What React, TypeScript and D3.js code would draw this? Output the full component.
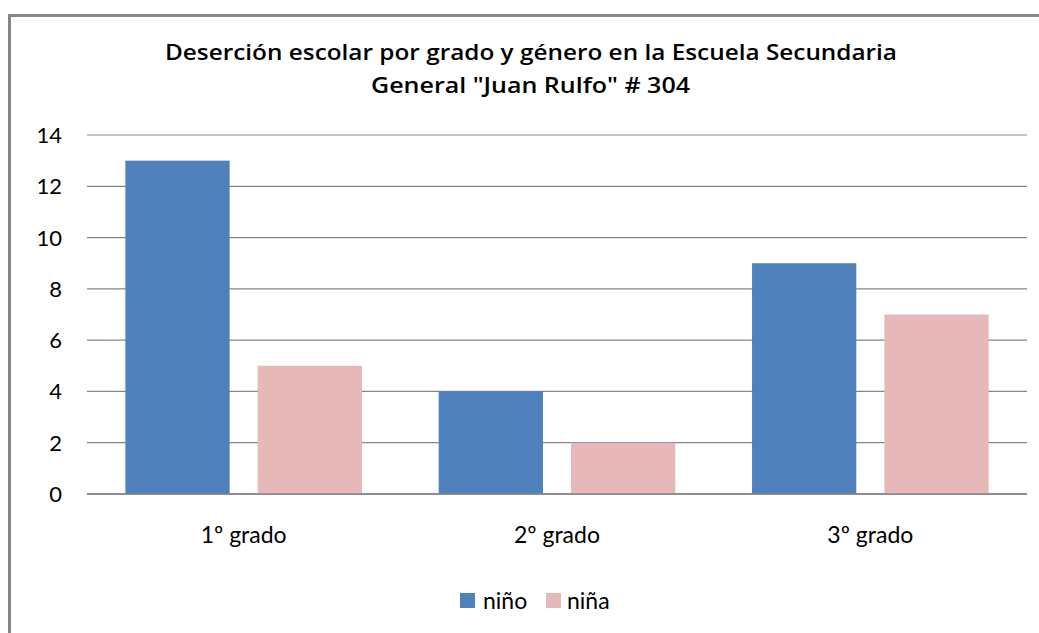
import React from "react";
import * as d3 from "d3";

const categories = ["1º grado", "2º grado", "3º grado"];
const seriesNames = ["niño", "niña"];
const ninoValues = [13, 4, 9];
const ninaValues = [5, 2, 7];
const yTicks = [0, 2, 4, 6, 8, 10, 12, 14];
const colors = ["#4F81BD", "#E6B9B8"];

export default function App() {
  const W = 1039, H = 633;
  const left = 87, right = 1027, top = 135, bottom = 494;
  const font = "Lato, Carlito, 'Open Sans', sans-serif";
  const titleFont = "'Open Sans', sans-serif";
  const x0 = d3.scaleBand<string>().domain(categories).range([left, right]).paddingInner(0).paddingOuter(0);
  const x1 = d3.scaleBand<string>().domain(seriesNames).range([0, x0.bandwidth()]).paddingInner(0.212).paddingOuter(0.29);
  const y = d3.scaleLinear().domain([0, 14]).range([bottom, top]);
  const data = [ninoValues, ninaValues];
  return (
    <div style={{ position: "fixed", left: 0, top: 0, width: W, height: H, overflow: "hidden", background: "#fff" }}>
      <svg width={W} height={H} style={{ display: "block" }}>
        <rect x={0} y={0} width={W} height={H} fill="#fff" />
        <path d={`M9.5,${H} L9.5,15.5 L${W},15.5`} fill="none" stroke="#868686" strokeWidth={3} />
        <text x={165} y={60} textLength={732} lengthAdjust="spacingAndGlyphs" fontFamily={titleFont} fontWeight={600} fontSize={21.5} fill="#000">
          Deserción escolar por grado y género en la Escuela Secundaria
        </text>
        <text x={371} y={93} textLength={319} lengthAdjust="spacingAndGlyphs" fontFamily={titleFont} fontWeight={600} fontSize={21.5} fill="#000">
          General "Juan Rulfo" # 304
        </text>
        {yTicks.map((t) => (
          <g key={t}>
            <line x1={left} x2={right} y1={y(t)} y2={y(t)} stroke="#868686" strokeWidth={t === 0 ? 1.5 : 1.2} />
            <text x={62} y={y(t) + 8} textAnchor="end" fontFamily={font} fontSize={22} fill="#000">{t}</text>
          </g>
        ))}
        {categories.map((c, i) =>
          seriesNames.map((s, j) => (
            <rect key={c + s} x={(x0(c) as number) + (x1(s) as number)} y={y(data[j][i])}
              width={x1.bandwidth()} height={bottom - y(data[j][i])} fill={colors[j]} />
          ))
        )}
        <line x1={left} x2={right} y1={bottom} y2={bottom} stroke="#868686" strokeWidth={1.5} />
        {categories.map((c) => (
          <text key={c} x={(x0(c) as number) + x0.bandwidth() / 2} y={543} textAnchor="middle" fontFamily={font} fontSize={23} fill="#000">{c}</text>
        ))}
        <rect x={460} y={593} width={15} height={15} fill={colors[0]} />
        <text x={483} y={609} fontFamily={font} fontSize={23} fill="#000">{seriesNames[0]}</text>
        <rect x={546} y={593} width={15} height={15} fill={colors[1]} />
        <text x={567} y={609} fontFamily={font} fontSize={23} fill="#000">{seriesNames[1]}</text>
      </svg>
    </div>
  );
}
